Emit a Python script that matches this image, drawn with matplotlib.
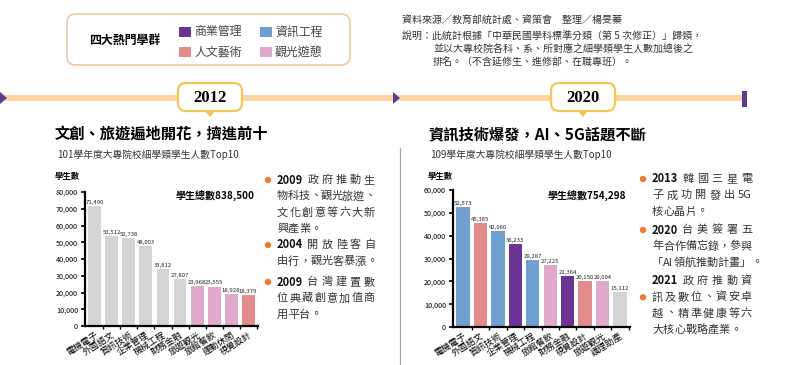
import re
import matplotlib
matplotlib.use('Agg')
import matplotlib.pyplot as plt
from matplotlib.patches import FancyBboxPatch, Polygon, Rectangle
from matplotlib.ticker import FuncFormatter, FixedLocator

plt.rcParams['font.family'] = ['Noto Sans CJK TC', 'DejaVu Sans']

# 群組顏色
colors = {'商業管理': '#6b3393', '資訊工程': '#6fa0cf', '人文藝術': '#e38c8c',
          '觀光遊憩': '#dfaacb', '其他': '#d4d4d4'}

labels_2012 = ['電機電子', '外國語文', '資訊技術', '企業管理', '機械工程',
               '財務金融', '旅遊觀光', '旅館餐飲', '運動休閒', '視覺設計']
values_2012 = [71490, 53512, 52738, 48003, 33812, 27807, 23968, 23555, 18928, 18379]
groups_2012 = ['其他'] * 6 + ['觀光遊憩'] * 3 + ['人文藝術']

labels_2020 = ['電機電子', '外國語文', '資訊技術', '企業管理', '機械工程',
               '旅館餐飲', '財務金融', '視覺設計', '旅遊觀光', '護理助產']
values_2020 = [52573, 45385, 42060, 36233, 29287, 27225, 22364, 20150, 20004, 15112]
groups_2020 = ['資訊工程', '人文藝術', '資訊工程', '商業管理', '資訊工程',
               '觀光遊憩', '商業管理', '人文藝術', '觀光遊憩', '其他']

W, H = 800, 365
fig = plt.figure(figsize=(8, 3.65), dpi=100)
bg = fig.add_axes([0, 0, 1, 1])
bg.set_xlim(0, W)
bg.set_ylim(H, 0)
bg.axis('off')
renderer = fig.canvas.get_renderer()

# legend box
bg.add_patch(FancyBboxPatch((67, 14), 283, 51, boxstyle='round,pad=0,rounding_size=9',
                            fc='white', ec='#f2c79c', lw=1.2))
bg.text(125, 40, '四大熱門學群', fontsize=8.6, fontweight='bold', ha='center', va='center')
leg = [('商業管理', 179, 32), ('資訊工程', 260, 32), ('人文藝術', 179, 52), ('觀光遊憩', 260, 52)]
for name, x, y in leg:
    bg.add_patch(Rectangle((x, y - 5), 12, 10, fc=colors[name], ec='none'))
    bg.text(x + 15, y, name, fontsize=8.6, va='center', color='#444444')

# source / notes
note_kw = dict(fontsize=7.2, color='#333333', va='center')
bg.text(402, 21, '資料來源／教育部統計處、資策會　整理／楊旻蓁', **note_kw)
bg.text(402, 37, '說明：此統計根據「中華民國學科標準分類（第 5 次修正）」歸類，', **note_kw)
bg.text(433, 50, '並以大專校院各科、系、所對應之細學類學生人數加總後之', **note_kw)
bg.text(433, 63, '排名。（不含延修生、進修部、在職專班）。', **note_kw)

# timeline
bg.plot([0, 744], [98, 98], color='#fdd59e', lw=4.3, solid_capstyle='butt', zorder=1)
purple = '#5a3d8e'
for x0 in (0, 393):
    bg.add_patch(Polygon([(x0, 92), (x0 + 7, 98), (x0, 104)], closed=True, fc=purple, ec='none', zorder=2))
bg.add_patch(Rectangle((742, 91), 5, 16, fc=purple, ec='none', zorder=2))

for year, cx in (('2012', 210), ('2020', 583)):
    bg.add_patch(FancyBboxPatch((cx - 32, 83), 64, 28, boxstyle='round,pad=0,rounding_size=8',
                                fc='white', ec='#f3c65a', lw=1.6, zorder=3))
    bg.add_patch(Polygon([(cx - 5, 111), (cx + 5, 111), (cx, 117)], closed=True,
                         fc='#f3c65a', ec='none', zorder=3))
    bg.text(cx, 97.5, year, fontsize=12, fontweight='bold', family='Liberation Serif',
            ha='center', va='center', zorder=4)

# divider
bg.plot([400, 400], [148, 365], color='#aaaaaa', lw=0.9)

# titles
bg.text(55, 134, '文創、旅遊遍地開花，擠進前十', fontsize=11, fontweight='bold', va='center')
bg.text(57, 155, '101學年度大專院校細學類學生人數Top10', fontsize=7, va='center', color='#333333')
bg.text(428, 134, '資訊技術爆發，AI、5G話題不斷', fontsize=11, fontweight='bold', va='center')
bg.text(430, 155, '109學年度大專院校細學類學生人數Top10', fontsize=7, va='center', color='#333333')

FS = 8


def width_of(s, **kw):
    t = bg.text(0, 0, s, fontsize=FS, **kw)
    w = t.get_window_extent(renderer).width
    t.remove()
    return w


def put_line(x, right, y, s, justify, color='#333333'):
    toks = re.findall(r'[A-Za-z0-9]+|\S', s)
    ws = [width_of(t) for t in toks]
    gap = (right - x - sum(ws)) / (len(toks) - 1) if justify and len(toks) > 1 else 0
    for t, w in zip(toks, ws):
        bg.text(x, y, t, fontsize=FS, va='center', color=color)
        x += w + gap


def bullet(x, right, y0, year, lines, dot_line=0, step=16.3):
    bg.add_patch(plt.Circle((x, y0 + dot_line * step), 3.2, fc='#ee7b3b', ec='none'))
    tx = x + 9
    for i, ln in enumerate(lines):
        y = y0 + i * step
        last = i == len(lines) - 1
        if i == 0:
            bg.text(tx, y, year, fontsize=FS, fontweight='bold', va='center', color='#111111')
            start = tx + width_of(year, fontweight='bold') + 4
            put_line(start, right, y, ln, not last)
        else:
            put_line(tx, right, y, ln, not last)


bullet(268, 375, 180, '2009', ['政府推動生', '物科技、觀光旅遊、', '文化創意等六大新', '興產業。'])
bullet(268, 375, 245, '2004', ['開放陸客自', '由行，觀光客暴漲。'])
bullet(268, 375, 282, '2009', ['台灣建置數', '位典藏創意加值商', '用平台。'])

bullet(643, 752, 179, '2013', ['韓國三星電', '子成功開發出 5G', '核心晶片。'])
bullet(643, 752, 230, '2020', ['台美簽署五', '年合作備忘錄，參與', '「AI領航推動計畫」。'])
bullet(643, 752, 281, '2021', ['政府推動資', '訊及數位、資安卓', '越、精準健康等六', '大核心戰略產業。'], dot_line=1)


def bar_chart(rect, labels, values, groups, ymax, total, ylab_x, total_y):
    ax = fig.add_axes(rect)
    xs = range(len(values))
    ax.bar(xs, values, width=0.76, color=[colors[g] for g in groups], zorder=2)
    for x, v in zip(xs, values):
        ax.text(x, v + ymax * 0.008, f'{v:,}', fontsize=4.3, ha='center', va='bottom',
                color='#222222', zorder=5, clip_on=False)
    ax.set_xlim(-0.58, len(values) - 0.42)
    ax.set_ylim(0, ymax)
    ax.set_yticks(range(0, ymax + 1, 10000))
    ax.yaxis.set_major_formatter(FuncFormatter(lambda v, p: '0' if v == 0 else f'{int(v):,}'))
    ax.set_xticks(list(xs))
    ax.set_xticklabels(labels, rotation=32, ha='right', rotation_mode='anchor', fontsize=6.4)
    ax.xaxis.set_minor_locator(FixedLocator([i + 0.5 for i in xs]))
    ax.tick_params(axis='x', which='major', length=0, pad=3)
    ax.tick_params(axis='x', which='minor', length=2.5, width=1)
    ax.tick_params(axis='y', length=3, width=1.2, labelsize=5.2, pad=2)
    for s in ('top', 'right'):
        ax.spines[s].set_visible(False)
    for s in ('left', 'bottom'):
        ax.spines[s].set_linewidth(1.6)
    ax.text(0.98, total_y, total, transform=ax.transAxes, fontsize=7.2, fontweight='bold',
            ha='right', va='center')
    bg.text(ylab_x, 176, '學生數', fontsize=6, fontweight='bold', va='center')
    return ax


bar_chart([85 / W, 1 - 326 / H, 173 / W, 134 / H], labels_2012, values_2012, groups_2012,
          80000, '學生總數838,500', 55, 0.97)
bar_chart([453 / W, 1 - 327 / H, 177 / W, 137 / H], labels_2020, values_2020, groups_2020,
          60000, '學生總數754,298', 428, 0.95)

fig.savefig('out.png', dpi=100, facecolor='white')
